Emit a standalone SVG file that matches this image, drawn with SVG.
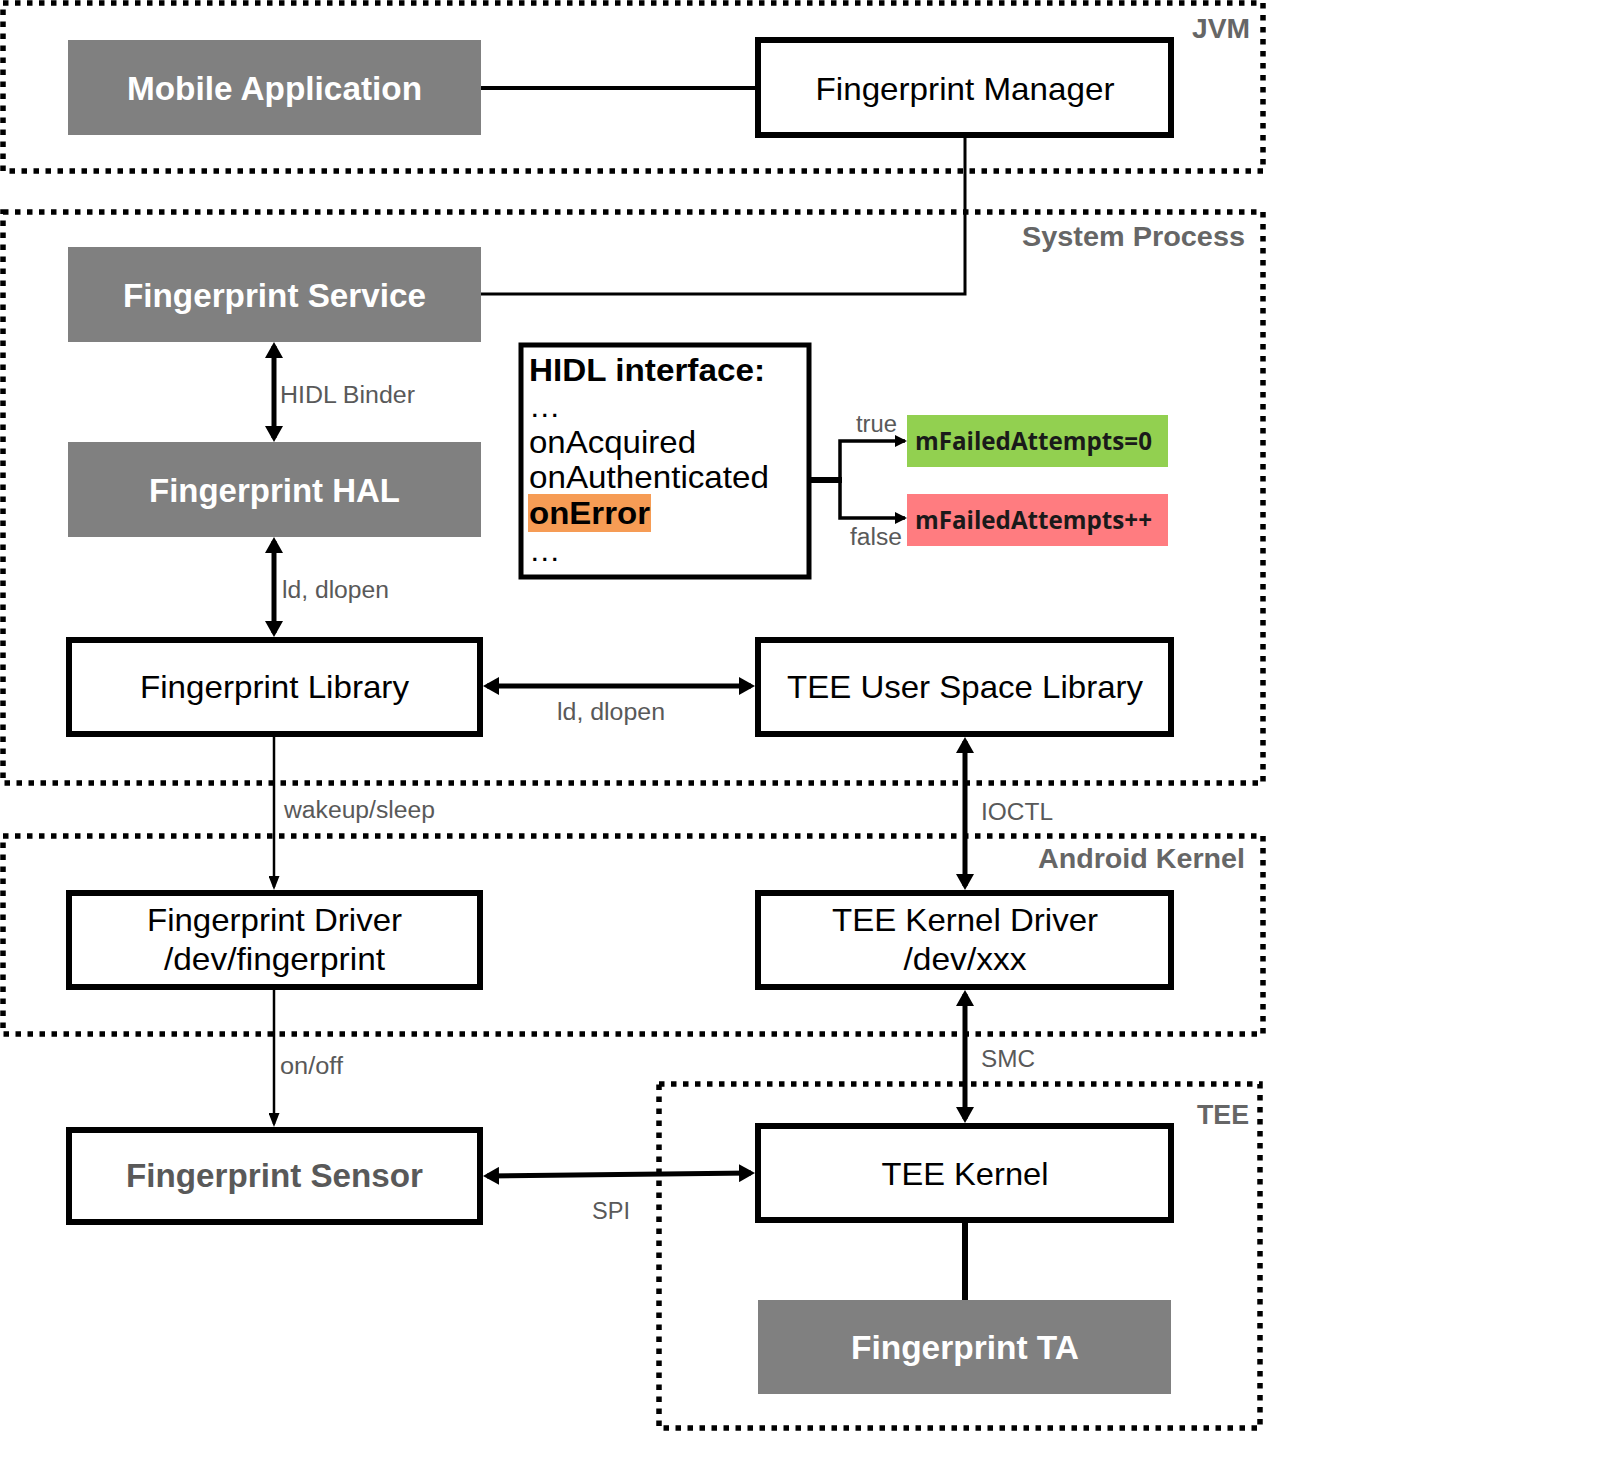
<svg xmlns="http://www.w3.org/2000/svg" width="1608" height="1469" viewBox="0 0 1608 1469">
<style>
text{font-family:"Liberation Sans",Arial,sans-serif}
.zone{fill:none;stroke:#000;stroke-width:5.5;stroke-dasharray:5.5 6.5}
.ztitle{font-size:28px;font-weight:bold;fill:#666;text-anchor:end}
.gbox{fill:#808080}
.wbox{fill:#fff;stroke:#000;stroke-width:6}
.gt{font-size:33px;font-weight:bold;fill:#fff;text-anchor:middle}
.wt{font-size:31.5px;fill:#000;text-anchor:middle}
.lbl{font-size:23.5px;fill:#595959}
.thick{fill:none;stroke:#000;stroke-width:5}
.thin{fill:none;stroke:#000;stroke-width:2.5}
.mid{fill:none;stroke:#000;stroke-width:3.5}
.hidl{font-size:31.5px;fill:#000}
.res{font-family:"Open Sans","Liberation Sans",sans-serif;font-size:25px;font-weight:bold;fill:#1a1a1a}
</style>
<defs>
<marker id="ah" markerWidth="16" markerHeight="18" refX="12" refY="9" orient="auto-start-reverse" markerUnits="userSpaceOnUse"><path d="M0,0 L16,9 L0,18 z" fill="#000"/></marker>
<marker id="ahs" markerWidth="14" markerHeight="11" refX="11" refY="5.5" orient="auto-start-reverse" markerUnits="userSpaceOnUse"><path d="M0,0 L14,5.5 L0,11 z" fill="#000"/></marker>
<marker id="ahb" markerWidth="12" markerHeight="12" refX="10" refY="6" orient="auto" markerUnits="userSpaceOnUse"><path d="M0,0 L12,6 L0,12 z" fill="#000"/></marker>
</defs>
<rect width="1608" height="1469" fill="#fff"/>

<g id="zone-jvm"><rect class="zone" x="3" y="3" width="1260" height="168"/><text class="ztitle" x="1250" y="38" textLength="58" lengthAdjust="spacingAndGlyphs">JVM</text></g>
<g id="zone-system"><rect class="zone" x="3" y="212" width="1260" height="571"/><text class="ztitle" x="1245" y="246" textLength="223" lengthAdjust="spacingAndGlyphs">System Process</text></g>
<g id="zone-kernel"><rect class="zone" x="3" y="836" width="1260" height="198"/><text class="ztitle" x="1245" y="868" textLength="207" lengthAdjust="spacingAndGlyphs">Android Kernel</text></g>
<g id="zone-tee"><rect class="zone" x="659" y="1084" width="601" height="344"/><text class="ztitle" x="1249" y="1124" textLength="52" lengthAdjust="spacingAndGlyphs">TEE</text></g>

<g id="connectors">
<line class="thick" x1="481" y1="88" x2="758" y2="88" style="stroke-width:4"/>
<polyline fill="none" stroke="#000" stroke-width="3" points="965,138 965,294 481,294"/>
<line class="thick" x1="274" y1="346" x2="274" y2="438" marker-start="url(#ah)" marker-end="url(#ah)"/>
<line class="thick" x1="274" y1="541" x2="274" y2="633" marker-start="url(#ah)" marker-end="url(#ah)"/>
<line class="thick" x1="487" y1="686" x2="751" y2="686" marker-start="url(#ah)" marker-end="url(#ah)"/>
<line class="thin" x1="274" y1="737" x2="274" y2="887" marker-end="url(#ahs)"/>
<line class="thick" x1="965" y1="741" x2="965" y2="886" marker-start="url(#ah)" marker-end="url(#ah)"/>
<line class="thin" x1="274" y1="990" x2="274" y2="1124" marker-end="url(#ahs)"/>
<line class="thick" x1="965" y1="994" x2="965" y2="1119" marker-start="url(#ah)" marker-end="url(#ah)"/>
<line class="thick" x1="487" y1="1176" x2="751" y2="1173" marker-start="url(#ah)" marker-end="url(#ah)"/>
<line class="thick" x1="965" y1="1223" x2="965" y2="1300" style="stroke-width:6"/>
<line class="thick" x1="774" y1="480" x2="842" y2="480" style="stroke-width:6"/>
<path class="mid" d="M840,480 V441 H905" marker-end="url(#ahb)"/>
<path class="mid" d="M840,480 V518 H905" marker-end="url(#ahb)"/>
</g>

<g id="connector-labels">
<text class="lbl" x="280" y="403" textLength="135" lengthAdjust="spacingAndGlyphs">HIDL Binder</text>
<text class="lbl" x="282" y="598" textLength="107" lengthAdjust="spacingAndGlyphs">ld, dlopen</text>
<text class="lbl" x="557" y="720" textLength="108" lengthAdjust="spacingAndGlyphs">ld, dlopen</text>
<text class="lbl" x="284" y="818" textLength="151" lengthAdjust="spacingAndGlyphs">wakeup/sleep</text>
<text class="lbl" x="981" y="820" textLength="72" lengthAdjust="spacingAndGlyphs">IOCTL</text>
<text class="lbl" x="280" y="1074" textLength="63" lengthAdjust="spacingAndGlyphs">on/off</text>
<text class="lbl" x="981" y="1067" textLength="54" lengthAdjust="spacingAndGlyphs">SMC</text>
<text class="lbl" x="592" y="1219" textLength="38" lengthAdjust="spacingAndGlyphs">SPI</text>
<text class="lbl" x="897" y="432" text-anchor="end" textLength="41" lengthAdjust="spacingAndGlyphs">true</text>
<text class="lbl" x="902" y="545" text-anchor="end" textLength="52" lengthAdjust="spacingAndGlyphs">false</text>
</g>

<g id="mobile-app"><rect class="gbox" x="68" y="40" width="413" height="95"/><text class="gt" x="274.5" y="100" style="font-size:32.5px" textLength="295" lengthAdjust="spacingAndGlyphs">Mobile Application</text></g>
<g id="fp-manager"><rect class="wbox" x="758" y="40" width="413" height="95"/><text class="wt" x="965" y="100" textLength="299" lengthAdjust="spacingAndGlyphs">Fingerprint Manager</text></g>
<g id="fp-service"><rect class="gbox" x="68" y="247" width="413" height="95"/><text class="gt" x="274.5" y="307" textLength="303" lengthAdjust="spacingAndGlyphs">Fingerprint Service</text></g>
<g id="fp-hal"><rect class="gbox" x="68" y="442" width="413" height="95"/><text class="gt" x="274.5" y="502" textLength="251" lengthAdjust="spacingAndGlyphs">Fingerprint HAL</text></g>

<g id="hidl-interface">
<rect class="wbox" x="521" y="345" width="288" height="232" style="stroke-width:5"/>
<rect x="528" y="494" width="123" height="38" fill="#F69C55"/>
<text class="hidl" x="529" y="381" font-weight="bold" textLength="236" lengthAdjust="spacingAndGlyphs">HIDL interface:</text>
<text class="hidl" x="529" y="417">…</text>
<text class="hidl" x="529" y="453" textLength="167" lengthAdjust="spacingAndGlyphs">onAcquired</text>
<text class="hidl" x="529" y="488" textLength="240" lengthAdjust="spacingAndGlyphs">onAuthenticated</text>
<text class="hidl" x="529" y="524" font-weight="bold" textLength="121" lengthAdjust="spacingAndGlyphs">onError</text>
<text class="hidl" x="529" y="561">…</text>
</g>
<g id="failed-zero"><rect x="907" y="415" width="261" height="52" fill="#92D050"/><text class="res" x="915" y="450" textLength="237" lengthAdjust="spacingAndGlyphs">mFailedAttempts=0</text></g>
<g id="failed-inc"><rect x="907" y="494" width="261" height="52" fill="#FF7C80"/><text class="res" x="915" y="529" textLength="237" lengthAdjust="spacingAndGlyphs">mFailedAttempts++</text></g>

<g id="fp-library"><rect class="wbox" x="69" y="640" width="411" height="94"/><text class="wt" x="274.5" y="698" textLength="269" lengthAdjust="spacingAndGlyphs">Fingerprint Library</text></g>
<g id="tee-user-lib"><rect class="wbox" x="758" y="640" width="413" height="94"/><text class="wt" x="965" y="698" textLength="356" lengthAdjust="spacingAndGlyphs">TEE User Space Library</text></g>
<g id="fp-driver"><rect class="wbox" x="69" y="893" width="411" height="94"/><text class="wt" x="274.5" y="931" textLength="255" lengthAdjust="spacingAndGlyphs">Fingerprint Driver</text><text class="wt" x="274.5" y="970" textLength="221" lengthAdjust="spacingAndGlyphs">/dev/fingerprint</text></g>
<g id="tee-kernel-driver"><rect class="wbox" x="758" y="893" width="413" height="94"/><text class="wt" x="965" y="931" textLength="266" lengthAdjust="spacingAndGlyphs">TEE Kernel Driver</text><text class="wt" x="965" y="970" textLength="123" lengthAdjust="spacingAndGlyphs">/dev/xxx</text></g>
<g id="fp-sensor"><rect class="wbox" x="69" y="1130" width="411" height="92"/><text class="gt" x="274.5" y="1187" style="fill:#595959" textLength="297" lengthAdjust="spacingAndGlyphs">Fingerprint Sensor</text></g>
<g id="tee-kernel"><rect class="wbox" x="758" y="1126" width="413" height="94"/><text class="wt" x="965" y="1185" textLength="167" lengthAdjust="spacingAndGlyphs">TEE Kernel</text></g>
<g id="fp-ta"><rect class="gbox" x="758" y="1300" width="413" height="94"/><text class="gt" x="965" y="1359" textLength="228" lengthAdjust="spacingAndGlyphs">Fingerprint TA</text></g>
</svg>
